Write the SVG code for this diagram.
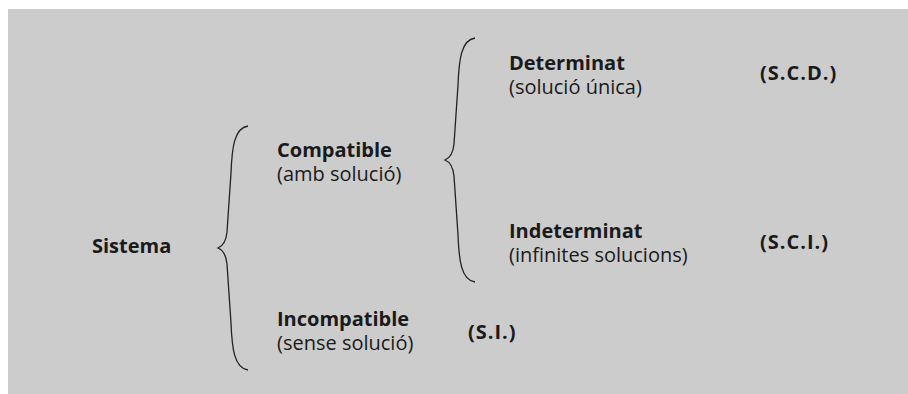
<svg xmlns="http://www.w3.org/2000/svg" width="908" height="394" viewBox="0 0 908 394">
<style>
text{font-family:"Open Sans","Liberation Sans",sans-serif;font-size:20px;fill:#1a1a1a}
.b{font-weight:bold}
.r{font-weight:normal}
.c{letter-spacing:1px}
.br{fill:none;stroke:#222;stroke-width:1.3}
</style>
<defs>
<path id="brace" d="M30,-122 C16,-120 14,-100 13,-75 L9,-16 C8,-6 5,-2 0,0 C5,2 8,6 9,16 L13,75 C14,100 16,120 30,122"/>
</defs>
<rect x="8" y="9" width="900" height="385" fill="#cccccc"/>
<g id="connectors">
<use href="#brace" class="br" transform="translate(218,248)"/>
<use href="#brace" class="br" transform="translate(445,160)"/>
</g>
<g id="sistema"><text class="b" x="92" y="253">Sistema</text></g>
<g id="compatible"><text><tspan class="b" x="277" y="157">Compatible</tspan><tspan class="r" x="277" y="181">(amb solució)</tspan></text></g>
<g id="incompatible"><text><tspan class="b" x="277" y="326">Incompatible</tspan><tspan class="r" x="277" y="350">(sense solució)</tspan></text></g>
<g id="si"><text class="b c" x="468" y="339">(S.I.)</text></g>
<g id="determinat"><text><tspan class="b" x="509" y="70">Determinat</tspan><tspan class="r" x="509" y="94">(solució única)</tspan></text></g>
<g id="scd"><text class="b c" x="760" y="80">(S.C.D.)</text></g>
<g id="indeterminat"><text><tspan class="b" x="509" y="238">Indeterminat</tspan><tspan class="r" x="509" y="262">(infinites solucions)</tspan></text></g>
<g id="sci"><text class="b c" x="760" y="249">(S.C.I.)</text></g>
</svg>
